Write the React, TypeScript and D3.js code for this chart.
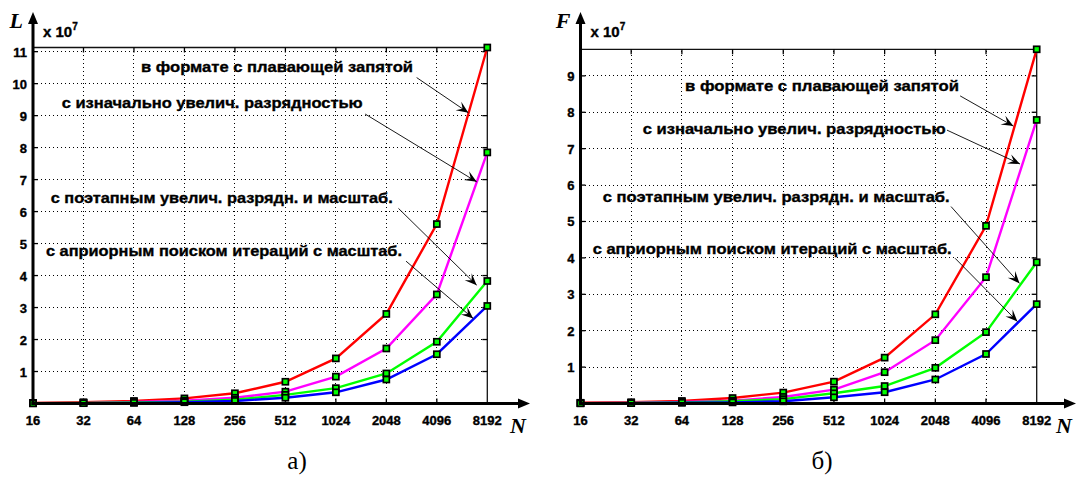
import React from 'react';
import * as d3 from 'd3';

// N values on the horizontal axis (log2 spaced)
const nValues = [16, 32, 64, 128, 256, 512, 1024, 2048, 4096, 8192];
const xTickLabels = ['16', '32', '64', '128', '256', '512', '1024', '2048', '4096', '8192'];

// panel a) : L, x 10^7
const lRed = [0.02, 0.04, 0.08, 0.16, 0.32, 0.68, 1.41, 2.8, 5.61, 11.13];
const lMagenta = [0.01, 0.02, 0.05, 0.09, 0.18, 0.37, 0.84, 1.72, 3.41, 7.85];
const lGreen = [0.008, 0.015, 0.03, 0.06, 0.12, 0.27, 0.48, 0.94, 1.93, 3.83];
const lBlue = [0.005, 0.01, 0.02, 0.04, 0.08, 0.18, 0.35, 0.75, 1.54, 3.05];
const lYTicks = [1, 2, 3, 4, 5, 6, 7, 8, 9, 10, 11];

// panel б) : F, x 10^7
const fRed = [0.02, 0.035, 0.07, 0.15, 0.3, 0.6, 1.26, 2.45, 4.88, 9.73];
const fMagenta = [0.01, 0.02, 0.04, 0.08, 0.18, 0.38, 0.86, 1.74, 3.47, 7.79];
const fGreen = [0.008, 0.015, 0.03, 0.06, 0.12, 0.28, 0.48, 0.98, 1.96, 3.88];
const fBlue = [0.005, 0.01, 0.02, 0.03, 0.06, 0.17, 0.31, 0.66, 1.36, 2.73];
const fYTicks = [1, 2, 3, 4, 5, 6, 7, 8, 9];

const seriesColors = ['#ff0000', '#ff00ff', '#00ff00', '#0000ff'];
const seriesLabels = [
  'в формате с плавающей запятой',
  'с изначально увелич. разрядностью',
  'с поэтапным увелич. разрядн. и масштаб.',
  'с априорным поиском итераций с масштаб.'
];

// arrows: [log2 N, value] of the start and the tip
const lArrows = [
  [[11.6, 10.19], [12.625, 9.09]],
  [[10.58, 9.05], [12.79, 6.93]],
  [[11.24, 6.1], [12.79, 3.7]],
  [[11.39, 4.45], [12.72, 2.66]]
];
const fArrows = [
  [[11.49, 8.45], [12.54, 7.62]],
  [[11.23, 7.51], [12.67, 6.58]],
  [[11.31, 5.41], [12.66, 3.3]],
  [[11.39, 3.99], [12.62, 2.25]]
];

const sans = '"Liberation Sans", Arial, sans-serif';
const serif = '"Liberation Serif", "Times New Roman", serif';

function arrowHead(x1, y1, x2, y2) {
  const a = Math.atan2(y2 - y1, x2 - x1);
  const len = 12, half = 5, notch = 7;
  const p = (d, w) => [x2 - d * Math.cos(a) - w * Math.sin(a), y2 - d * Math.sin(a) + w * Math.cos(a)];
  const pts = [[x2, y2], p(len, half), p(notch, 0), p(len, -half)];
  return pts.map(q => q.join(',')).join(' ');
}

function Panel({ axisX, rightX, topY, yMax, series, yTicks, yName, caption, captionX, texts, arrows, axisEnd, nX }) {
  const zeroY = 403.5;
  const x = d3.scaleLog().base(2).domain([16, 8192]).range([axisX, rightX]);
  const y = d3.scaleLinear().domain([0, yMax]).range([zeroY, topY]);
  const xe = e => x(Math.pow(2, e));
  const line = d3.line().x((d, i) => x(nValues[i])).y(d => y(d));
  const heavy = { fontFamily: sans, fontWeight: 'bold', stroke: '#000', strokeWidth: 0.35 };

  return (
    <g>
      {/* grid */}
      {nValues.slice(1, -1).map(n => (
        <line key={'gx' + n} x1={x(n)} x2={x(n)} y1={zeroY} y2={topY}
          stroke="#000" strokeWidth={1} strokeDasharray="1 3" shapeRendering="crispEdges" />
      ))}
      {yTicks.map(t => (
        <line key={'gy' + t} x1={axisX} x2={rightX} y1={y(t)} y2={y(t)}
          stroke="#000" strokeWidth={1} strokeDasharray="1 3" shapeRendering="crispEdges" />
      ))}
      {/* box */}
      <line x1={axisX} x2={rightX} y1={topY} y2={topY} stroke="#111" strokeWidth={1.3} />
      <line x1={rightX} x2={rightX} y1={topY} y2={zeroY} stroke="#111" strokeWidth={1.3} />
      {nValues.slice(1, -1).map(n => (
        <g key={'tx' + n}>
          <line x1={x(n)} x2={x(n)} y1={topY} y2={topY + 5} stroke="#000" strokeWidth={1.3} />
          <line x1={x(n)} x2={x(n)} y1={zeroY} y2={zeroY - 5} stroke="#000" strokeWidth={1.3} />
        </g>
      ))}
      {yTicks.map(t => (
        <g key={'ty' + t}>
          <line x1={rightX} x2={rightX - 5} y1={y(t)} y2={y(t)} stroke="#000" strokeWidth={1.3} />
          <line x1={axisX} x2={axisX + 5} y1={y(t)} y2={y(t)} stroke="#000" strokeWidth={1.3} />
        </g>
      ))}
      {/* series */}
      {series.map((s, i) => (
        <path key={'s' + i} d={line(s)} fill="none" stroke={seriesColors[i]} strokeWidth={2.4} />
      ))}
      {series.map((s, i) => s.map((v, j) => (
        <rect key={'m' + i + '-' + j} x={x(nValues[j]) - 3} y={y(v) - 3} width={6} height={6}
          fill="#00ff00" stroke="#000" strokeWidth={1.7} />
      )))}
      {/* axes */}
      <line x1={axisX} x2={axisX} y1={zeroY + 1.5} y2={22} stroke="#000" strokeWidth={3} />
      <polygon points={`${axisX},12 ${axisX - 5},24 ${axisX + 5},24`} fill="#000" />
      <line x1={axisX - 1.5} x2={axisEnd - 10} y1={zeroY} y2={zeroY} stroke="#000" strokeWidth={3} />
      <polygon points={`${axisEnd},${zeroY} ${axisEnd - 12},${zeroY - 5} ${axisEnd - 12},${zeroY + 5}`} fill="#000" />
      {/* tick labels */}
      {yTicks.map(t => (
        <text key={'ly' + t} x={axisX - 6} y={y(t) + 5} textAnchor="end" fontSize={13} {...heavy}>{t}</text>
      ))}
      {nValues.map((n, i) => (
        <text key={'lx' + n} x={x(n)} y={425} textAnchor="middle" fontSize={13} {...heavy}>{xTickLabels[i]}</text>
      ))}
      <text x={axisX + 10} y={37} fontSize={15} {...heavy}>
        x 10<tspan fontSize={10} dy={-7}>7</tspan>
      </text>
      <text x={axisX - 10} y={28} textAnchor="end" fontFamily={serif} fontStyle="italic"
        fontWeight="bold" fontSize={22}>{yName}</text>
      <text x={nX} y={433} fontFamily={serif} fontStyle="italic" fontWeight="bold" fontSize={22}>N</text>
      {/* annotations */}
      {texts.map((t, i) => (
        <text key={'t' + i} x={t[0]} y={t[1] + 5} textLength={t[2]} lengthAdjust="spacingAndGlyphs"
          fontSize={15} {...heavy}>{seriesLabels[i]}</text>
      ))}
      {arrows.map((a, i) => {
        const x1 = xe(a[0][0]), y1 = y(a[0][1]), x2 = xe(a[1][0]), y2 = y(a[1][1]);
        return (
          <g key={'a' + i}>
            <line x1={x1} y1={y1} x2={x2} y2={y2} stroke="#000" strokeWidth={0.9} />
            <polygon points={arrowHead(x1, y1, x2, y2)} fill="#000" />
          </g>
        );
      })}
      <text x={captionX} y={469} textAnchor="middle" fontFamily={serif} fontSize={25}>{caption}</text>
    </g>
  );
}

export default function App() {
  return (
    <svg width={1076} height={477} style={{ position: 'absolute', left: 0, top: 0, background: '#fff' }}>
      <rect width={1076} height={477} fill="#fff" />
      <Panel axisX={33} rightX={487.3} topY={47.5} yMax={11.13}
        series={[lRed, lMagenta, lGreen, lBlue]} yTicks={lYTicks} yName="L"
        caption="а)" captionX={297} axisEnd={530} nX={510}
        texts={[[141, 67.3, 272], [61.7, 103.3, 301], [50.7, 198.3, 342], [46, 250.7, 356]]}
        arrows={lArrows} />
      <Panel axisX={580.5} rightX={1036.7} topY={49.3} yMax={9.73}
        series={[fRed, fMagenta, fGreen, fBlue]} yTicks={fYTicks} yName="F"
        caption="б)" captionX={822} axisEnd={1076} nX={1056}
        texts={[[685, 85.7, 274], [642.7, 129.3, 303], [602.7, 196.7, 347], [592.7, 249.3, 359]]}
        arrows={fArrows} />
    </svg>
  );
}
